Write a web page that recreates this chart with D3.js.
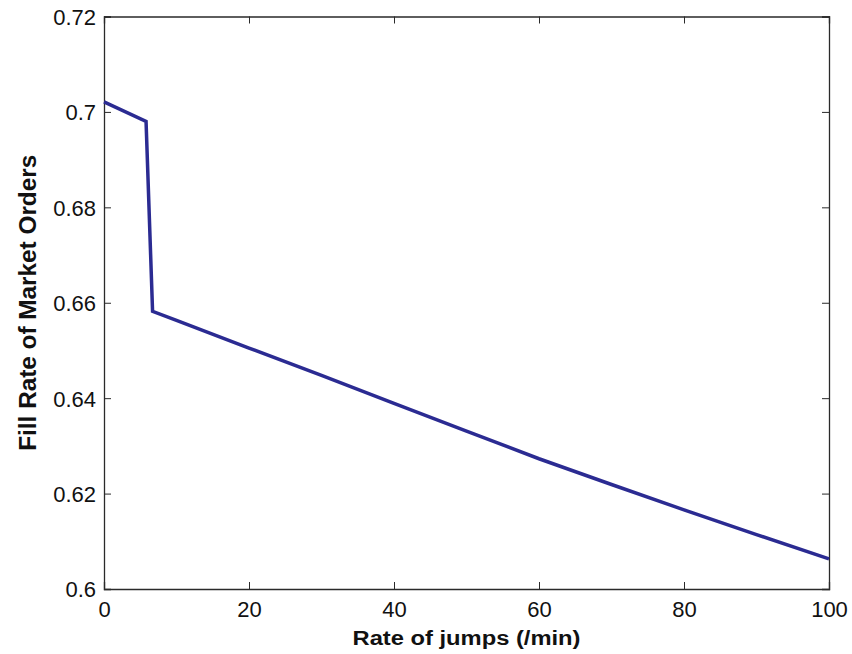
<!DOCTYPE html>
<html><head><meta charset="utf-8">
<script src="https://cdn.jsdelivr.net/npm/d3@7"></script>
<style>body{margin:0;background:#fff}svg{display:block}text{font-family:"Liberation Sans",Arial,sans-serif}</style>
</head><body><svg id="c" width="852" height="654"></svg>
<script>
const jumpRate = [0, 5.8, 6.7, 10, 20, 30, 40, 50, 60, 70, 80, 90, 100];
const fillRate = [0.7021, 0.6980, 0.6582, 0.6563, 0.6505, 0.6448, 0.6389, 0.6331, 0.6273, 0.6219, 0.6166, 0.6114, 0.6063];
const xTicks = [0, 20, 40, 60, 80, 100];
const yTicks = [0.6, 0.62, 0.64, 0.66, 0.68, 0.7, 0.72];
const xLabel = "Rate of jumps (/min)";
const yLabel = "Fill Rate of Market Orders";

const m = {l:104, r:829, t:16.5, b:589};
const svg = d3.select("#c");
const x = d3.scaleLinear().domain([0,100]).range([m.l, m.r]);
const y = d3.scaleLinear().domain([0.6,0.72]).range([m.b, m.t]);
const axisColor = "#2a2a2a";
const tl = 7;

const gx = svg.append("g").attr("transform",`translate(0,${m.b})`)
  .call(d3.axisBottom(x).tickValues(xTicks).tickSize(-tl).tickPadding(12).tickFormat(d3.format("d")));
const gxt = svg.append("g").attr("transform",`translate(0,${m.t})`)
  .call(d3.axisTop(x).tickValues(xTicks).tickSize(-tl).tickFormat(""));
const gy = svg.append("g").attr("transform",`translate(${m.l},0)`)
  .call(d3.axisLeft(y).tickValues(yTicks).tickSize(-tl).tickPadding(8).tickFormat(d => String(+d.toFixed(2))));
const gyr = svg.append("g").attr("transform",`translate(${m.r},0)`)
  .call(d3.axisRight(y).tickValues(yTicks).tickSize(-tl).tickFormat(""));
[gx,gxt,gy,gyr].forEach(g=>{
  g.select(".domain").attr("stroke",axisColor).attr("stroke-width",1.3);
  g.selectAll(".tick line").attr("stroke",axisColor).attr("stroke-width",1);
  g.selectAll(".tick text").attr("fill","#111").style("font-size","22px").style("font-family","Liberation Sans, Arial, sans-serif");
});
gx.selectAll(".tick text").attr("y",12).attr("dy","0.71em");
gy.selectAll(".tick text").attr("dy","0.36em");

const data = jumpRate.map((d,i)=>[d, fillRate[i]]);
svg.append("path").datum(data)
  .attr("fill","none").attr("stroke","#2b2b92").attr("stroke-width",3.5)
  .attr("stroke-linejoin","miter")
  .attr("d", d3.line().x(d=>x(d[0])).y(d=>y(d[1])));

svg.append("text").attr("x",(m.l+m.r)/2).attr("y",644.5)
  .attr("text-anchor","middle").attr("font-weight","bold").attr("font-size",20).attr("fill","#111")
  .attr("textLength",228).attr("lengthAdjust","spacingAndGlyphs")
  .text(xLabel);
svg.append("text").attr("transform",`translate(35.5,${(m.t+m.b)/2}) rotate(-90)`)
  .attr("text-anchor","middle").attr("font-weight","bold").attr("font-size",23).attr("fill","#111")
  .attr("textLength",296).attr("lengthAdjust","spacingAndGlyphs")
  .text(yLabel);
</script></body></html>
